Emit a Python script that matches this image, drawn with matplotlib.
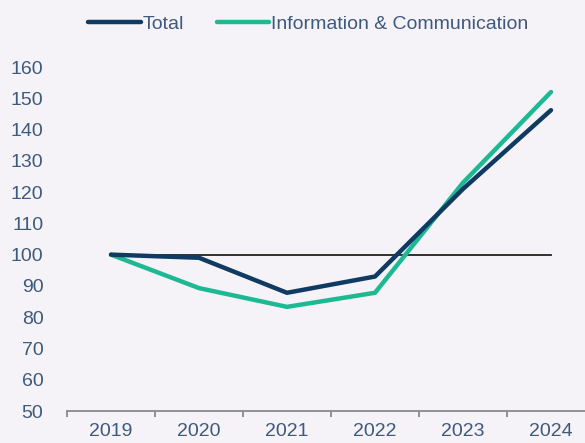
import numpy as np
import matplotlib.pyplot as plt

plt.rcParams['font.family'] = ['Liberation Sans', 'DejaVu Sans']

years = ['2019', '2020', '2021', '2022', '2023', '2024']
total = [100, 99, 87.8, 93, 121, 146.2]
info_comm = [100, 89.3, 83.3, 87.8, 123, 152]
baseline = 100

navy = '#0f3b63'
teal = '#1cb992'
txt = '#3d5a7f'
bg = '#f5f2f8'

fig = plt.figure(figsize=(5.85, 4.43), dpi=100, facecolor=bg)
ax = fig.add_axes([67 / 585, 32 / 443, 528 / 585, 344 / 443], facecolor=bg)

x = np.arange(len(years))
ax.plot(x, [baseline] * len(x), color='#222222', lw=1.3, zorder=1)
ax.plot(x, total, color=navy, lw=3.2, solid_capstyle='round', solid_joinstyle='round',
        label='Total', zorder=3)
ax.plot(x, info_comm, color=teal, lw=3.2, solid_capstyle='round', solid_joinstyle='round',
        label='Information & Communication', zorder=2)

ax.set_xlim(-0.5, len(years) - 0.5)
ax.set_ylim(50, 160)
ax.set_yticks(np.arange(50, 161, 10))
ax.set_xticks(x)
ax.set_xticklabels(years)
ax.set_xticks(np.arange(-0.5, len(years), 1), minor=True)

for s in ['top', 'right', 'left']:
    ax.spines[s].set_visible(False)
ax.spines['bottom'].set_color('#8a8a8a')
ax.spines['bottom'].set_linewidth(1.3)

ax.tick_params(axis='y', length=0, pad=17, labelsize=14, labelcolor=txt)
ax.tick_params(axis='x', which='major', length=0, pad=9, labelsize=14, labelcolor=txt)
ax.tick_params(axis='x', which='minor', length=4, width=1.3, color='#8a8a8a')

leg = fig.legend(loc='center', bbox_to_anchor=(0.527, 0.945), ncol=2, frameon=False,
                 fontsize=14, handlelength=2.7, handletextpad=0.1, columnspacing=1.7)
for t in leg.get_texts():
    t.set_color(txt)

fig.savefig('out.png', dpi=100, facecolor=bg)
